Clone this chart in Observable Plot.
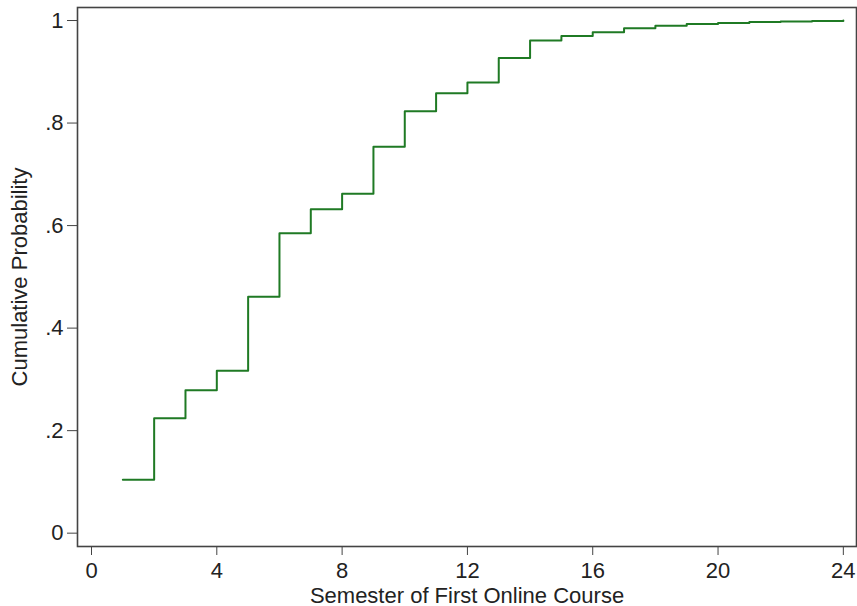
<!DOCTYPE html>
<html>
<head>
<meta charset="utf-8">
<script src="https://cdn.jsdelivr.net/npm/d3@7"></script>
<script src="https://cdn.jsdelivr.net/npm/@observablehq/plot@0.6"></script>
<style>
  html, body { margin: 0; padding: 0; background: #fff; }
  #chart svg { display: block; }
</style>
</head>
<body>
<div id="chart"></div>
<script>
const semesters = [1,2,3,4,5,6,7,8,9,10,11,12,13,14,15,16,17,18,19,20,21,22,23,24];
const cumProb = [0.104,0.224,0.279,0.317,0.461,0.585,0.632,0.662,0.754,0.823,0.858,0.879,0.927,0.961,0.970,0.977,0.985,0.990,0.993,0.995,0.997,0.998,0.999,1.000];
const xTicks = [0,4,8,12,16,20,24];
const yTicks = [0,0.2,0.4,0.6,0.8,1];
const yTickLabels = ["0",".2",".4",".6",".8","1"];

const data = semesters.map((s, i) => ({semester: s, p: cumProb[i]}));

const chart = Plot.plot({
  width: 857,
  height: 606,
  marginLeft: 77,
  marginRight: 1,
  marginTop: 7,
  marginBottom: 60,
  style: {fontFamily: "'Liberation Sans', Arial, Helvetica, sans-serif", fontSize: "22px", color: "#222", background: "#fff"},
  x: {domain: [-0.447, 24.42]},
  y: {domain: [-0.026, 1.0254]},
  marks: [
    Plot.axisX({
      ticks: xTicks, tickSize: 9, tickPadding: 7, stroke: "#444",
      label: "Semester of First Online Course", labelAnchor: "center", labelArrow: "none", labelOffset: 56
    }),
    Plot.axisY({
      ticks: yTicks, tickSize: 10, tickPadding: 4, stroke: "#444",
      tickFormat: (d) => yTickLabels[yTicks.findIndex(t => Math.abs(t - d) < 1e-9)],
      label: "Cumulative Probability", labelAnchor: "center", labelArrow: "none", labelOffset: 66
    }),
    Plot.frame({stroke: "#444", strokeWidth: 1.6}),
    Plot.line(data, {x: "semester", y: "p", curve: "step-after", stroke: "#1f7a24", strokeWidth: 2})
  ]
});
document.getElementById("chart").appendChild(chart);
</script>
</body>
</html>
